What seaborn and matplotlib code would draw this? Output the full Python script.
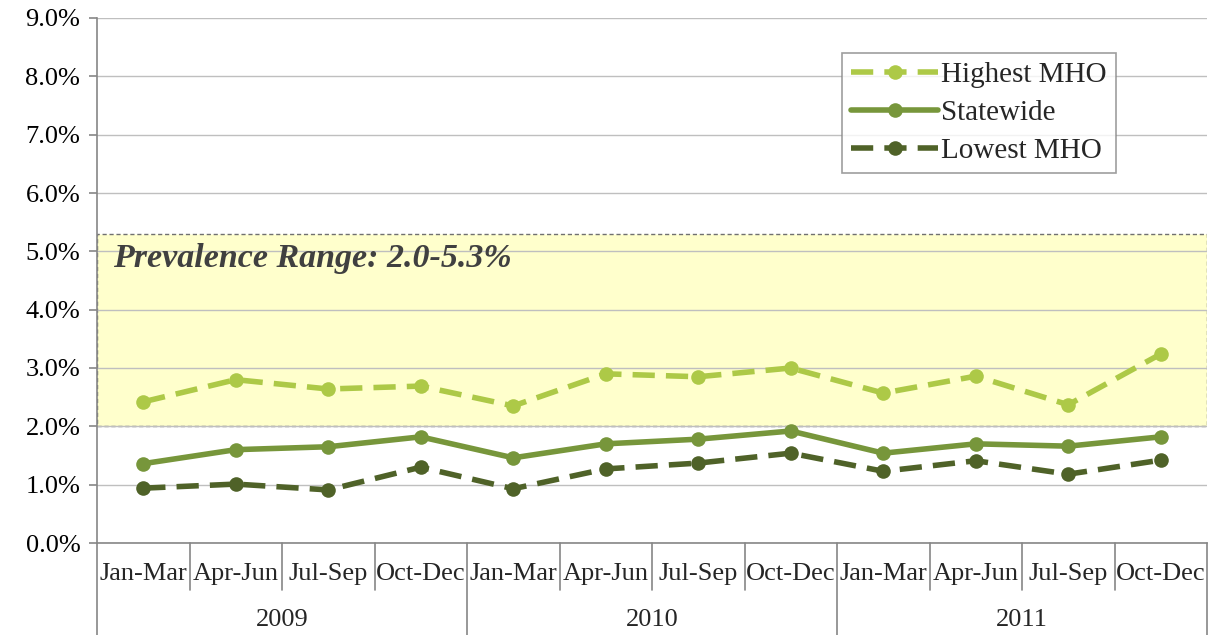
import numpy as np
import pandas as pd
import matplotlib
matplotlib.use("Agg")
import matplotlib.pyplot as plt
import seaborn as sns
from matplotlib.patches import Rectangle
from matplotlib.ticker import FuncFormatter, MultipleLocator

quarters = ["Jan-Mar", "Apr-Jun", "Jul-Sep", "Oct-Dec"] * 3
years = ["2009", "2010", "2011"]
highest = [2.42, 2.80, 2.64, 2.69, 2.35, 2.90, 2.85, 3.00, 2.57, 2.86, 2.37, 3.24]
statewide = [1.36, 1.60, 1.65, 1.82, 1.46, 1.70, 1.78, 1.92, 1.54, 1.70, 1.66, 1.82]
lowest = [0.94, 1.01, 0.91, 1.30, 0.93, 1.27, 1.37, 1.54, 1.23, 1.41, 1.18, 1.42]
band_low, band_high = 2.0, 5.3
band_label = "Prevalence Range: 2.0-5.3%"

series_names = ["Highest MHO", "Statewide", "Lowest MHO"]
colors = {"Highest MHO": "#ADC947", "Statewide": "#77963B", "Lowest MHO": "#4F6228"}

sns.set_theme(style="white")
plt.rcParams["font.family"] = ["Liberation Serif", "DejaVu Serif"]

df = pd.DataFrame({
    "period": list(range(12)) * 3,
    "value": highest + statewide + lowest,
    "series": np.repeat(series_names, 12),
})

fig = plt.figure(figsize=(12.11, 6.35), dpi=100)
ax = fig.add_axes([97 / 1211, 92 / 635, 1110 / 1211, 525 / 635])

# prevalence band
ax.add_patch(Rectangle((-0.5, band_low), 12, band_high - band_low,
                       facecolor="#FFFFCC", edgecolor="#707070", linestyle=(0, (3, 2)),
                       linewidth=1.0, zorder=0.5))
ax.text(-0.33, 4.87, band_label, fontsize=24.5, fontweight="bold", fontstyle="italic",
        color="#404040", va="center", ha="left", zorder=3)

sns.lineplot(data=df, x="period", y="value", hue="series", style="series",
             hue_order=series_names, style_order=series_names, palette=colors,
             dashes={"Highest MHO": (4, 2), "Statewide": "", "Lowest MHO": (4, 2)},
             markers={"Highest MHO": "o", "Statewide": "o", "Lowest MHO": "o"},
             markersize=10.5, markeredgewidth=0, linewidth=4, ax=ax, zorder=4)

ax.set_xlim(-0.5, 11.5)
ax.set_ylim(0, 9)
ax.yaxis.set_major_locator(MultipleLocator(1))
ax.yaxis.set_major_formatter(FuncFormatter(lambda v, p: f"{v:.1f}%"))
ax.grid(axis="y", color="#BFBFBF", linewidth=1.0, zorder=0)
ax.set_axisbelow(True)
for s in ["top", "right"]:
    ax.spines[s].set_visible(False)
for s in ["left", "bottom"]:
    ax.spines[s].set_color("#868686")
    ax.spines[s].set_linewidth(1.2)
ax.tick_params(axis="y", left=True, length=6, width=1.2, color="#868686",
               labelsize=19, pad=6, labelcolor="black")
ax.set_xticks([])
ax.set_xlabel("")
ax.set_ylabel("")

# two-level category axis
trans = ax.get_xaxis_transform()
for i, q in enumerate(quarters):
    ax.text(i, -0.059, q, transform=trans, ha="center", va="center", fontsize=19)
for i in range(13):
    bottom = -0.175 if i % 4 == 0 else -0.0895
    ax.plot([i - 0.5, i - 0.5], [0, bottom], transform=trans, color="#868686",
            linewidth=1.2, clip_on=False)
for j, y in enumerate(years):
    ax.text(4 * j + 1.5, -0.147, y, transform=trans, ha="center", va="center", fontsize=19)

leg = ax.legend(loc="upper left", bbox_to_anchor=(745 / 1110, 1 - 35 / 525),
                fontsize=21, frameon=True, fancybox=False, edgecolor="#868686",
                handlelength=3.0, handletextpad=0.1, borderpad=0.3, labelspacing=0.4,
                borderaxespad=0)
leg.get_frame().set_linewidth(1.2)
leg.set_title(None)

fig.savefig("out.png", dpi=100)
